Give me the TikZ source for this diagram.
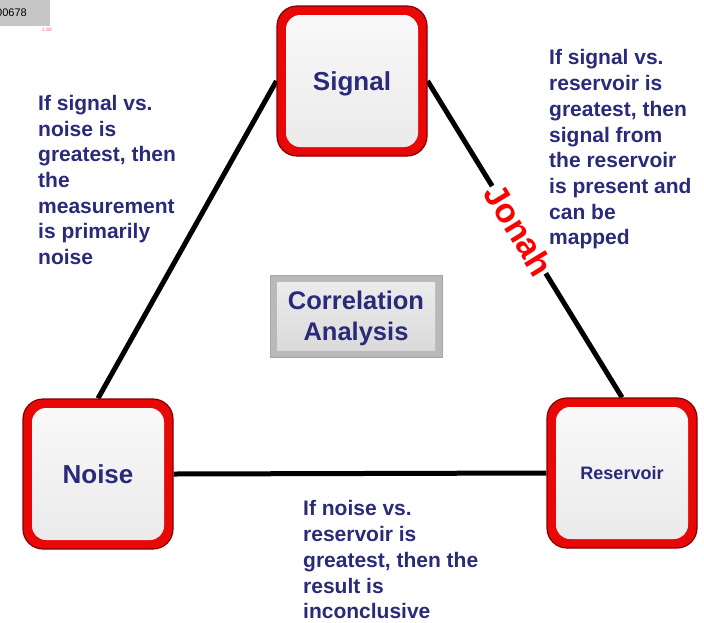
\documentclass[tikz,border=0pt]{standalone}
\usepackage{fontspec}
\setmainfont{Liberation Sans}
\usetikzlibrary{positioning,calc,backgrounds}
\definecolor{navy}{RGB}{42,42,122}
\definecolor{boxred}{RGB}{232,8,8}

\tikzset{
  corner/.style={rounded corners=20pt, fill=boxred, draw=red!50!black, line width=1.2pt,
    minimum width=150pt, minimum height=150pt, text=navy, text depth=0pt,
    font=\bfseries\fontsize{26}{30}\selectfont,
    path picture={\shade[rounded corners=14pt, top color=gray!4, bottom color=gray!17]
      ($(path picture bounding box.south west)+(9pt,9pt)$) rectangle
      ($(path picture bounding box.north east)+(-9pt,-9pt)$);}},
  plate/.style={fill=gray!55, draw=gray!70, minimum width=172pt, minimum height=82pt,
    text=navy, align=center, text depth=0pt, font=\bfseries\fontsize{25.5}{31}\selectfont,
    path picture={\shade[top color=gray!14, bottom color=gray!30]
      ($(path picture bounding box.south west)+(7pt,7pt)$) rectangle
      ($(path picture bounding box.north east)+(-7pt,-7pt)$);}},
  note/.style={text=navy, align=left, inner sep=0pt, anchor=north west,
    font=\bfseries\fontsize{21}{25.7}\selectfont},
  edge/.style={line width=5pt, black}
}

\begin{document}
\begin{tikzpicture}[x=1pt, y=-1pt]
    \useasboundingbox (0,0) rectangle (704,622);

    % stamp in the corner
    \fill[gray!45] (0,0) rectangle (50,26);
    \node[anchor=west, inner sep=0pt, font=\fontsize{11}{13}\selectfont] (stamp) at (-4,13) {00678};
    \node[inner sep=0pt, text=red!60, font=\fontsize{5}{6}\selectfont] (tick) at (47,30) {1.68};

    % Vertices
    \node[corner] (signal) at (352,81) {Signal};
    \node[corner] (noise) at (98,474) {Noise};
    \node[corner, font=\bfseries\fontsize{18}{22}\selectfont] (reservoir) at (622,473) {Reservoir};

    % Centre
    \node[plate] (corr) at (356,316) {Correlation\\Analysis};

    % Sides
    \begin{scope}[on background layer]
    \draw[edge] (signal.west) -- (noise.north);
    \draw[edge] (noise.east) -- (reservoir.west);
    \draw[edge] (signal.east) -- node[pos=0.47, sloped, fill=white, inner sep=1pt, text=red,
        font=\bfseries\fontsize{34}{38}\selectfont] (jonah) {Jonah} (reservoir.north);
    \end{scope}

    % Notes
    \node[note] (leftnote) at (38,95) {If signal vs.\\noise is\\greatest, then\\the\\measurement\\is primarily\\noise};
    \node[note] (rightnote) at (549,49.5) {If signal vs.\\reservoir is\\greatest, then\\signal from\\the reservoir\\is present and\\can be\\mapped};
    \node[note] (bottomnote) at (303,500.5) {If noise vs.\\reservoir is\\greatest, then the\\result is\\inconclusive};
\end{tikzpicture}
\end{document}
